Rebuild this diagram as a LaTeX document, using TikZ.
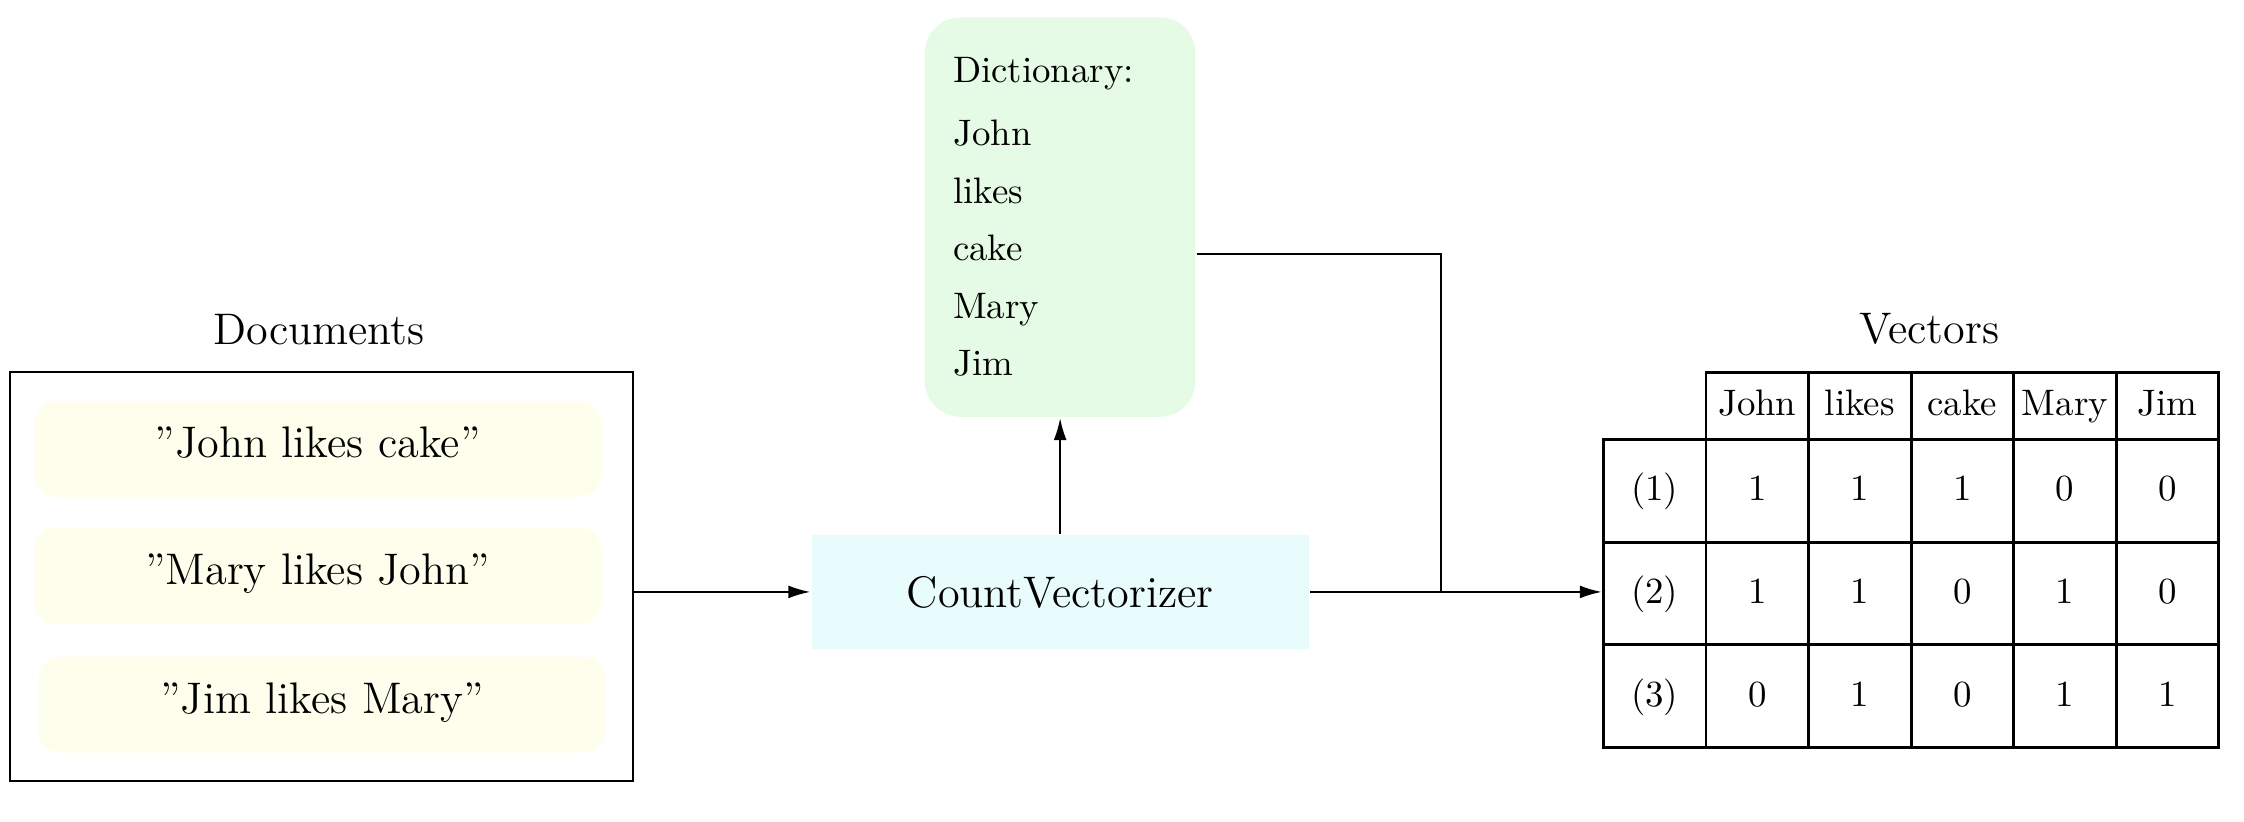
\documentclass[tikz,border=0pt]{standalone}
\usetikzlibrary{positioning,matrix,arrows.meta}
\definecolor{docyellow}{RGB}{253,254,236}
\definecolor{dictgreen}{RGB}{230,251,230}
\definecolor{cvcyan}{RGB}{232,252,253}
\begin{document}
\begin{tikzpicture}[>={Latex[length=6pt,width=3.5pt]}, semithick,
  heading/.style={font=\large},
  sentence/.style={rounded corners=0.2cm, fill=docyellow, minimum width=5.4cm, minimum height=0.915cm, font=\large, text height=1.6ex, text depth=0.5ex}]
  \useasboundingbox (0,0) rectangle (21.40,-7.835);
  % 文档
  \node[heading] (doctitle) at (3.04,-3.14) {Documents};
  \node[draw, minimum width=5.94cm, minimum height=3.9cm] (docs) at (3.065,-5.50) {};
  \node[sentence] (s1) at (3.03,-4.28) {''John likes cake''};
  \node[sentence] (s2) at (3.03,-5.49) {''Mary likes John''};
  \node[sentence] (s3) at (3.07,-6.72) {''Jim likes Mary''};

  % 向量化器和词典
  \node[fill=cvcyan, minimum width=4.74cm, minimum height=1.08cm, font=\large] (cv) at (10.11,-5.645) {CountVectorizer};
  \node[fill=dictgreen, rounded corners=0.34cm, text width=2.04cm, inner xsep=0.27cm, minimum height=3.81cm, align=left] (dict) at (10.11,-2.07)
    {Dictionary:\\[5pt] John\\[3.6pt] likes\\[3.6pt] cake\\[3.6pt] Mary\\[3.6pt] Jim};

  % 向量表
  \node[heading] (vectitle) at (18.40,-3.14) {Vectors};
  \matrix (vec) [matrix of nodes, thick, column sep=-0.8pt, row sep=-0.8pt,
    nodes={draw, inner xsep=1pt, minimum width=0.978cm, minimum height=0.98cm, text height=1.5ex, text depth=0.25ex},
    row 1/.style={nodes={minimum height=0.64cm}}] at (18.225,-5.34) {
      & John & likes & cake & Mary & Jim \\
    (1) & 1 & 1 & 1 & 0 & 0 \\
    (2) & 1 & 1 & 0 & 1 & 0 \\
    (3) & 0 & 1 & 0 & 1 & 1 \\
  };

  % 箭头
  \draw[->] (docs.east |- cv.west) -- (cv.west);
  \draw[->] (cv.north) -- (dict.south);
  \coordinate[right=1.25cm of cv.east] (merge);
  \draw[->] (cv.east) -- (cv.east -| vec-3-1.west);
  \draw ([yshift=-0.35cm]dict.east) -| (merge);
\end{tikzpicture}
\end{document}
